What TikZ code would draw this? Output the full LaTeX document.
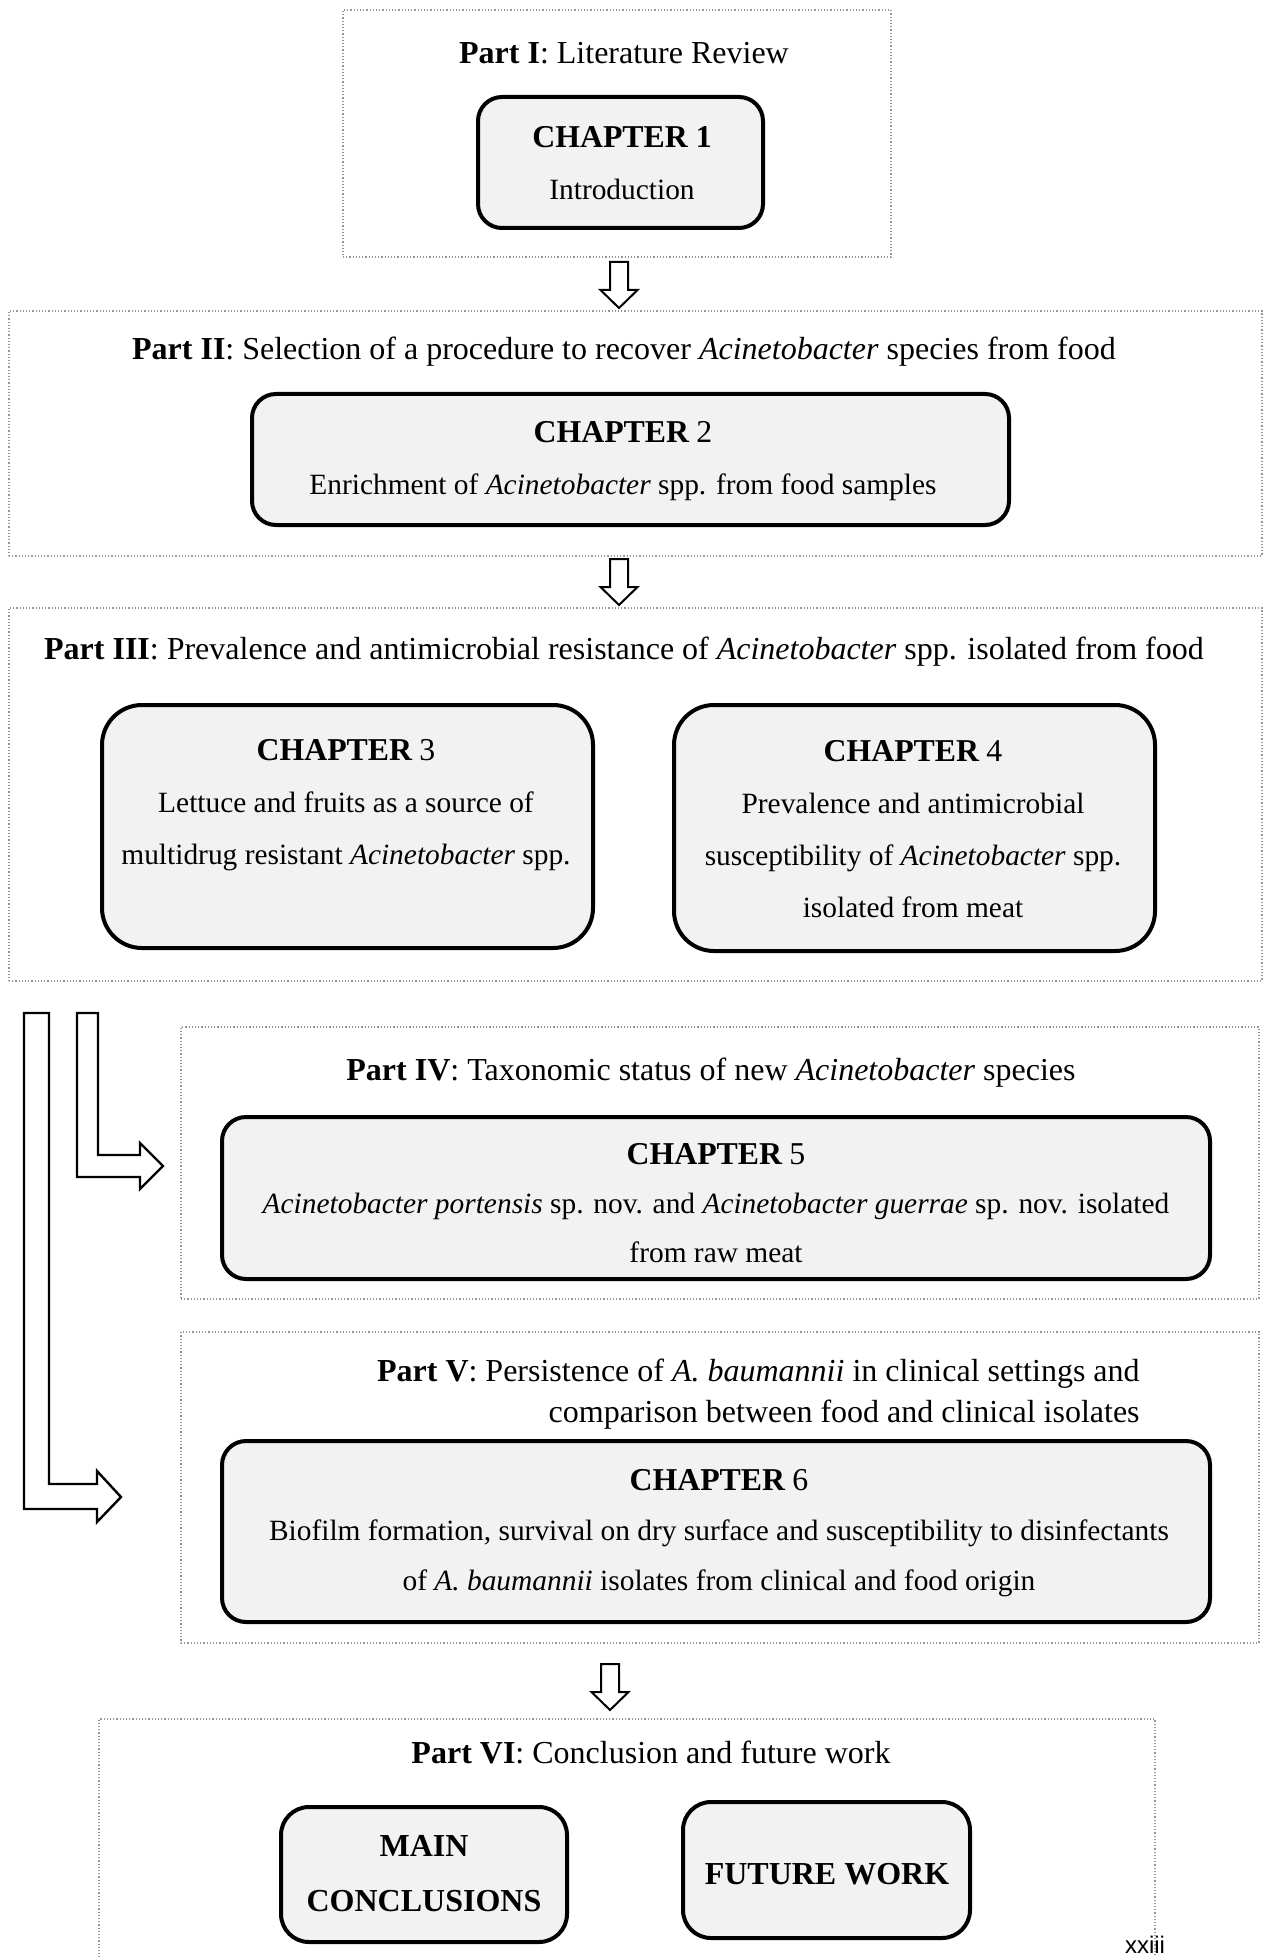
\documentclass[tikz,border=0pt]{standalone}
\usepackage{fontspec}
\setmainfont{Liberation Serif}
\newfontfamily\pagenumfont{Liberation Sans}
\usetikzlibrary{fit}
\definecolor{boxfill}{RGB}{242,242,242}
\definecolor{dotgray}{RGB}{150,150,150}
\newcommand\ttlfont{\fontsize{16}{19}\selectfont}
\newcommand\hdfont{\fontsize{15.9}{19}\selectfont\bfseries}
\newcommand\numfont{\fontsize{15.9}{19}\selectfont}
\begin{document}
\begin{tikzpicture}[x=0.5pt,y=-0.5pt,
  partbox/.style={draw=dotgray, densely dotted, line width=0.6pt, inner sep=0pt},
  chapbox/.style={draw=black, fill=boxfill, line width=2pt, inner sep=0pt, rounded corners=#1},
  chapbox/.default=12pt,
  ttl/.style={font=\ttlfont, inner sep=0pt, align=center},
  bodytxt/.style={font=\fontsize{14.7}{#1}\selectfont, inner sep=0pt, align=center},
  bodytxt/.default=26,
  blockarrow/.style={draw=black, fill=white, line width=1pt, line join=miter},
  downarr/.pic={\draw[blockarrow] (-9,0) -- (9,0) -- (9,28) -- (18.5,28) -- (0,46) -- (-18.5,28) -- (-9,28) -- cycle;}
]
\useasboundingbox (0,0) rectangle (1265,1957);

% Part boxes
\node[partbox, fit={(343,10) (891,257)}] (p1) {};
\node[partbox, fit={(9,311) (1262,556)}] (p2) {};
\node[partbox, fit={(9,608) (1262,981)}] (p3) {};
\node[partbox, fit={(181,1027) (1259,1299)}] (p4) {};
\node[partbox, fit={(181,1332) (1259,1643)}] (p5) {};
\node[partbox, fit={(99,1719) (1155,2000)}] (p6) {};

% Part titles
\node[ttl] (t1) at (624,53) {\textbf{Part I}: Literature Review};
\node[ttl] (t2) at (624,352) {\textbf{Part II}: Selection of a procedure to recover \textit{Acinetobacter} species from food};
\node[ttl] (t3) at (624,652) {\textbf{Part III}: Prevalence and antimicrobial resistance of \textit{Acinetobacter} spp. isolated from food};
\node[ttl] (t4) at (711,1073) {\textbf{Part IV}: Taxonomic status of new \textit{Acinetobacter} species};
\node[ttl, align=right, anchor=east, font=\fontsize{16}{20.5}\selectfont] (t5) at (1140,1394) {\textbf{Part V}: Persistence of \textit{A. baumannii} in clinical settings and\\comparison between food and clinical isolates\hspace{3pt}};
\node[ttl] (t6) at (651,1752) {\textbf{Part VI}: Conclusion and future work};

% Chapter boxes
\node[chapbox, fit={(478,97) (763,228)}] (c1) {};
\node[chapbox, fit={(252,394) (1009,525)}] (c2) {};
\node[chapbox=20pt, fit={(102,705) (593,948)}] (c3) {};
\node[chapbox=20pt, fit={(674,705) (1155,951)}] (c4) {};
\node[chapbox, fit={(222,1117) (1210,1279)}] (c5) {};
\node[chapbox, fit={(222,1441) (1210,1622)}] (c6) {};
\node[chapbox=14pt, fit={(281,1807) (567,1942)}] (mc) {};
\node[chapbox=14pt, fit={(683,1802) (970,1938)}] (fw) {};

% Chapter texts
\node[bodytxt] (c1t) at (622,163) {{\hdfont CHAPTER 1}\\Introduction};
\node[bodytxt] (c2t) at (623,461) {{\hdfont CHAPTER} {\numfont 2}\\Enrichment of \textit{Acinetobacter} spp. from food samples};
\node[bodytxt] (c3t) at (346,805) {{\hdfont CHAPTER} {\numfont 3}\\Lettuce and fruits as a source of\\multidrug resistant \textit{Acinetobacter} spp.};
\node[bodytxt] (c4t) at (913,829) {{\hdfont CHAPTER} {\numfont 4}\\Prevalence and antimicrobial\\susceptibility of \textit{Acinetobacter} spp.\\isolated from meat};
\node[bodytxt=24.5] (c5t) at (716,1203) {{\hdfont CHAPTER} {\numfont 5}\\\textit{Acinetobacter portensis} sp. nov. and \textit{Acinetobacter guerrae} sp. nov. isolated\\from raw meat};
\node[bodytxt=25] (c6t) at (719,1533) {{\hdfont CHAPTER} {\numfont 6}\\Biofilm formation, survival on dry surface and susceptibility to disinfectants\\of \textit{A. baumannii} isolates from clinical and food origin};
\node[inner sep=0pt, align=center, font=\fontsize{16}{27.5}\selectfont\bfseries] (mct) at (424,1874) {MAIN\\CONCLUSIONS};
\node[inner sep=0pt, align=center, font=\fontsize{16}{19}\selectfont\bfseries] (fwt) at (827,1874) {FUTURE WORK};

% Down block arrows
\pic at (619,262) {downarr};
\pic at (619,559) {downarr};
\pic at (610,1664) {downarr};

% L-shaped block arrows
\draw[blockarrow, line width=1.2pt] (77,1013) -- (98,1013) -- (98,1155) -- (140,1155) -- (140,1143) -- (163,1166) -- (140,1189) -- (140,1177) -- (77,1177) -- cycle;
\draw[blockarrow, line width=1.2pt] (24,1013) -- (49,1013) -- (49,1484) -- (97,1484) -- (97,1471) -- (121,1497) -- (97,1522) -- (97,1509) -- (24,1509) -- cycle;

% page number
\node[inner sep=0pt, anchor=base, font=\pagenumfont\fontsize{12}{14}\selectfont] (pg) at (1145,1953) {xxiii};
\end{tikzpicture}
\end{document}
